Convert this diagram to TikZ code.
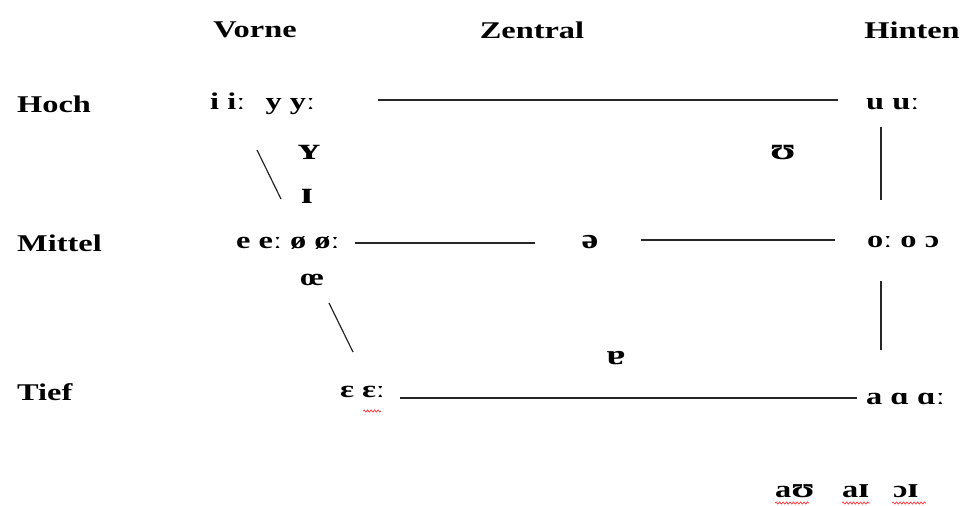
\documentclass[tikz,border=0pt]{standalone}
\usepackage{fontspec}
\setmainfont{Liberation Serif}[FakeStretch=1.35]
\usetikzlibrary{decorations.pathmorphing}
\newcommand{\bigipa}[1]{{\fontsize{31}{34}\selectfont #1}}
\newcommand{\midipa}[1]{{\fontsize{28}{30}\selectfont #1}}
\begin{document}
\begin{tikzpicture}[x=1pt,y=-1pt,
  lbl/.style={inner sep=0pt,font=\bfseries\fontsize{24}{28}\selectfont},
  ipa/.style={inner sep=0pt,font=\bfseries\fontsize{24}{28}\selectfont},
  ln/.style={line width=1.2pt,black!85},
  wav/.style={red!80,line width=0.7pt,decorate,decoration={snake,amplitude=1.1pt,segment length=3.5pt}}]
\useasboundingbox (0,0) rectangle (962,506);
% headers
\node[lbl] (vorne) at (255,30) {Vorne};
\node[lbl] (zentral) at (532,30) {Zentral};
\node[lbl] (hinten) at (912,30) {Hinten};
\node[lbl,anchor=west] (hoch) at (17,104) {Hoch};
\node[lbl,anchor=west] (mittel) at (17,243) {Mittel};
\node[lbl,anchor=west] (tief) at (17,392) {Tief};
% vowels
\node[ipa,anchor=west] (fh) at (210,104) {i iː\ \ \,y yː};
\node[ipa,anchor=west] (bh) at (866,104) {u uː};
\node[ipa] (Y) at (309,152) {\bigipa{ʏ}};
\node[ipa] (I) at (307,196) {\bigipa{ɪ}};
\node[ipa] (U) at (783,153) {\bigipa{ʊ}};
\node[ipa,anchor=west] (fm) at (236,243) {e eː ø øː};
\node[ipa] (schwa) at (590,242) {\midipa{ə}};
\node[ipa,anchor=west] (bm) at (867,242) {oː o ɔ};
\node[ipa] (oe) at (312,280) {œ};
\node[ipa] (turna) at (616,358) {\midipa{ɐ}};
\node[ipa,anchor=west] (fl) at (340,392) {ɛ ɛː};
\node[ipa,anchor=west] (bl) at (866,399) {a ɑ ɑː};
\node[ipa,anchor=west] (d1) at (775,491) {a\midipa{ʊ}};
\node[ipa,anchor=west] (d2) at (842,491) {a\midipa{ɪ}};
\node[ipa,anchor=west] (d3) at (893,491) {ɔ\midipa{ɪ}};
% line ends
\coordinate (t1) at (378,100); \coordinate (t2) at (838,100);
\coordinate (v1) at (881,127); \coordinate (v2) at (881,200);
\coordinate (m1) at (355,243); \coordinate (m2) at (535,243);
\coordinate (m3) at (641,240); \coordinate (m4) at (835,240);
\coordinate (v3) at (881,281); \coordinate (v4) at (881,350);
\coordinate (b1) at (400,398); \coordinate (b2) at (857,398);
\coordinate (g1) at (257,150); \coordinate (g2) at (281,199);
\coordinate (g3) at (329,303); \coordinate (g4) at (353,352);
\draw[ln] (t1) -- (t2);
\draw[ln] (v1) -- (v2);
\draw[ln] (m1) -- (m2);
\draw[ln] (m3) -- (m4);
\draw[ln] (v3) -- (v4);
\draw[ln] (b1) -- (b2);
\draw[ln] (g1) -- (g2);
\draw[ln] (g3) -- (g4);
% spell-check squiggles
\coordinate (w1) at (363,411); \coordinate (w2) at (381,411);
\coordinate (w3) at (775,503); \coordinate (w4) at (809,503);
\coordinate (w5) at (842,503); \coordinate (w6) at (870,503);
\coordinate (w7) at (892,503); \coordinate (w8) at (926,503);
\draw[wav] (w1) -- (w2);
\draw[wav] (w3) -- (w4);
\draw[wav] (w5) -- (w6);
\draw[wav] (w7) -- (w8);
\end{tikzpicture}
\end{document}
